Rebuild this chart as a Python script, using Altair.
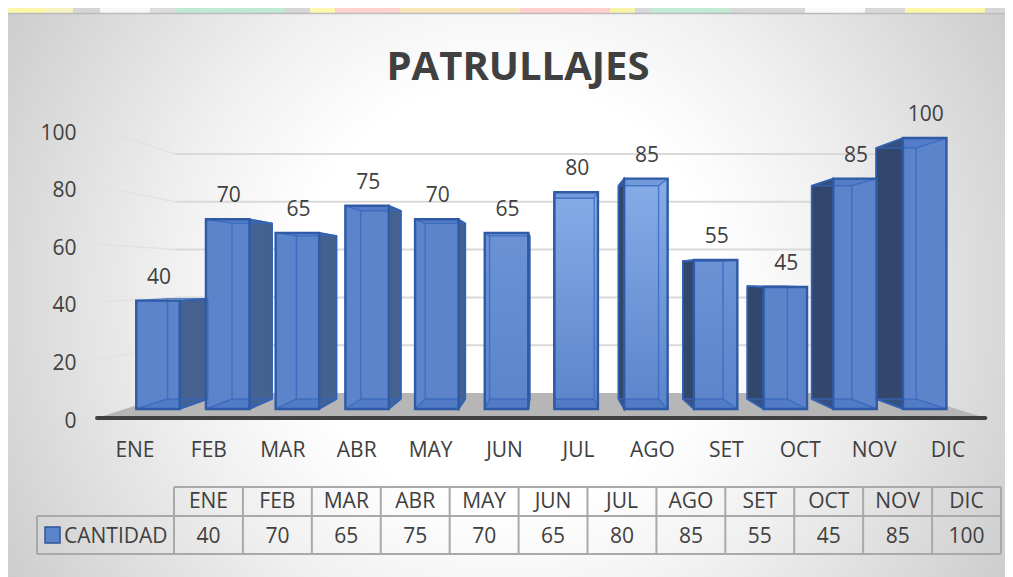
import altair as alt
import pandas as pd

months = ["ENE","FEB","MAR","ABR","MAY","JUN","JUL","AGO","SET","OCT","NOV","DIC"]
values = [40,70,65,75,70,65,80,85,55,45,85,100]
y_ticks = [0,20,40,60,80,100]
sheen_mid = ["JUN","SET"]
sheen_strong = ["JUL","AGO"]
chart_title = ["PATRULLAJES"]

FONT = "Open Sans"
TXT = "#404040"
W, H = 997, 569
FS = 21
HALF = 0.312      # half bar width in month slots
VANISH = 5.6      # slot of the perspective centre
DEPTH_X = 0.924

def back_x(x): return VANISH + (x - VANISH) * DEPTH_X
def back_y(v): return 3.69 + 0.926 * v
def wall_y(v): return 5.9 + 0.882 * v
def axis_y(v): return -3.32 + 1.07 * v
WALL_L, WALL_R, AX_L, AX_R = 0.244, 10.72, -0.875, 11.87

def poly_rows(pts, group, color):
    """Turn a convex polygon into area rows (x, upper, lower)."""
    n = len(pts)
    rows = []
    for x in sorted({p[0] for p in pts}):
        ys = []
        for k in range(n):
            (x0, y0), (x1, y1) = pts[k], pts[(k + 1) % n]
            if min(x0, x1) <= x <= max(x0, x1):
                if x0 == x1:
                    ys += [y0, y1]
                else:
                    ys.append(y0 + (y1 - y0) * (x - x0) / (x1 - x0))
        rows.append(dict(x=x, y=max(ys), y2=min(ys), g=group, c=color))
    return rows

SX = alt.Scale(domain=[0, 11], range=[150, 150 + 69.7 * 11])
SY = alt.Scale(domain=[0, 100], range=[401, 130])
X = alt.X("x:Q", axis=None, scale=SX)
Y = alt.Y("y:Q", axis=None, scale=SY)

def area(rows, **kw):
    return alt.Chart(pd.DataFrame(rows)).mark_area(**kw).encode(
        x=X, y=Y, y2="y2:Q", detail="g:N",
        fill=alt.Fill("c:N", scale=None))

# ---------- panel
panel = alt.Chart(pd.DataFrame({"a": [0]})).mark_rect(
    color=alt.RadialGradient(
        gradient="radial", x1=0.5, y1=0.5, x2=0.5, y2=0.5, r1=0, r2=0.6,
        stops=[alt.GradientStop(offset=0, color="#ffffff"),
               alt.GradientStop(offset=0.3, color="#ffffff"),
               alt.GradientStop(offset=0.48, color="#f0f0f0"),
               alt.GradientStop(offset=0.83, color="#cbcbcb"),
               alt.GradientStop(offset=1, color="#bdbdbd")])
).encode(x=alt.value(0), x2=alt.value(W), y=alt.value(-300), y2=alt.value(875))

strip_x0 = [0, 37, 65, 92, 142, 167, 277, 302, 327, 392, 512, 602, 627, 642, 722, 797, 857, 897, 977]
strip_x1 = [37, 65, 92, 142, 167, 277, 302, 327, 392, 512, 602, 627, 642, 722, 797, 857, 897, 977, 997]
strip_c = ["#fdf7a8", "#f6f3c0", "#d6d4d6", "#f7f7f9", "#dcdcdc", "#c0e9d3", "#d6d6d6", "#fdf7b0",
           "#ffd0d0", "#f6e6b8", "#ffcfd0", "#f9f3a8", "#d8d8d8", "#c2ead5", "#d8d8d8", "#fbf8f8",
           "#d8d8d8", "#fdf7a8", "#d6d6d6"]
strip = alt.Chart(pd.DataFrame({"a": strip_x0, "b": strip_x1, "c": strip_c})).mark_rect().encode(
    x=alt.X("a:Q", axis=None, scale=alt.Scale(domain=[0, W], range=[0, W])),
    x2="b:Q", y=alt.value(0), y2=alt.value(5),
    fill=alt.Fill("c:N", scale=None))
edge = alt.Chart(pd.DataFrame({"a": [0]})).mark_rule(color="#bcbcbc", strokeWidth=1.5).encode(
    x=alt.value(0), x2=alt.value(W), y=alt.value(5.5))
title_mark = alt.Chart(pd.DataFrame({"s": chart_title})).mark_text(
    font=FONT, fontSize=40, fontWeight="bold", color=TXT, baseline="alphabetic").encode(
    x=alt.value(510), y=alt.value(72), text="s:N")
deco = alt.layer(panel, strip, edge, title_mark)

# ---------- walls, floor, axis line
grid = pd.DataFrame({"t": y_ticks})
grid["ax"] = grid["t"].map(axis_y)
grid["wl"] = grid["t"].map(wall_y)
grid["xa"], grid["xw"], grid["xr"] = AX_L, WALL_L, WALL_R
left_wall = alt.Chart(grid).mark_rule(color="#e2e2e2", strokeWidth=1.5).encode(
    x=alt.X("xa:Q", axis=None, scale=SX), x2="xw:Q",
    y=alt.Y("ax:Q", axis=None, scale=SY), y2="wl:Q")
back_wall = alt.Chart(grid[grid.t > 0]).mark_rule(color="#d9d9d9", strokeWidth=2).encode(
    x=alt.X("xw:Q", axis=None, scale=SX), x2="xr:Q",
    y=alt.Y("wl:Q", axis=None, scale=SY))
floor = area(poly_rows([(AX_L, axis_y(0)), (WALL_L, wall_y(0)), (WALL_R, wall_y(0)), (AX_R, axis_y(0))],
                       "floor", "#b6b6b6"))
axis_line = alt.Chart(pd.DataFrame({"x": [AX_L], "x2": [AX_R], "y": [axis_y(0)]})).mark_rule(
    color="#404040", strokeWidth=4, strokeCap="round").encode(
    x=X, x2="x2:Q", y=Y)

# ---------- 3D bars
side, top, bottom, edges = [], [], [], []
for i, (m, v) in enumerate(zip(months, values)):
    l, r = i - HALF, i + HALF
    bl, br = back_x(l), back_x(r)
    by0, byv = back_y(0), back_y(v)
    if i < VANISH:
        side += poly_rows([(r, 0), (br, by0), (br, byv), (r, v)], f"s{i:02d}", "#44618f")
    else:
        side += poly_rows([(l, 0), (bl, by0), (bl, byv), (l, v)], f"s{i:02d}", "#33476c")
    top += poly_rows([(l, v), (bl, byv), (br, byv), (r, v)], f"t{i:02d}", "#3a66b8")
    bottom += poly_rows([(l, 0), (bl, by0), (br, by0), (r, 0)], f"b{i:02d}", "#3a66b8")
    for k, (a, b, c0, d) in enumerate([(l, bl, v, byv), (r, br, v, byv), (l, bl, 0, by0), (r, br, 0, by0),
                                       (bl, bl, by0, byv), (br, br, by0, byv), (bl, br, byv, byv), (bl, br, by0, by0)]):
        edges.append(dict(x=a, x2=b, y=c0, y2=d))

bars = pd.DataFrame({"m": months, "v": values, "z": [0] * 12})
bars["x"] = [i - HALF for i in range(12)]
bars["x2"] = [i + HALF for i in range(12)]

def front(**kw):
    return alt.Chart(bars).mark_bar(**kw).encode(x=X, x2="x2:Q", y=alt.Y("v:Q", axis=None, scale=SY), y2="z:Q")

def sheen(names, op):
    return alt.Chart(bars[bars.m.isin(names)]).mark_bar(
        color=alt.LinearGradient(gradient="linear", x1=0, y1=0, x2=0, y2=1,
                                 stops=[alt.GradientStop(offset=0, color=f"rgba(170,205,255,{op})"),
                                        alt.GradientStop(offset=1, color="rgba(170,205,255,0)")])
    ).encode(x=X, x2="x2:Q", y=alt.Y("v:Q", axis=None, scale=SY), y2="z:Q")

edge_layer = alt.Chart(pd.DataFrame(edges)).mark_rule(color="#3566bd", strokeWidth=1.4, opacity=0.75).encode(
    x=X, x2="x2:Q", y=Y, y2="y2:Q")
labels = alt.Chart(pd.DataFrame({"x": [i + 0.015 for i in range(12)], "y": values})).mark_text(
    font=FONT, fontSize=FS, color=TXT, dy=-23).encode(x=X, y=Y, text="y:Q")

side_layer = area(side, stroke="#2e5aa6", strokeWidth=1.5)
main = alt.layer(left_wall, back_wall, floor, axis_line,
                 side_layer,
                 front(color="#5b84cb"), sheen(sheen_mid, 0.2), sheen(sheen_strong, 0.55),
                 area(top, opacity=0.25), area(bottom, opacity=0.3),
                 edge_layer,
                 front(fillOpacity=0, stroke="#2e5aa6", strokeWidth=2.4),
                 labels)

# ---------- real axes
axes = alt.Chart(pd.DataFrame({"m": months, "t": [(y_ticks * 2)[i] for i in range(12)]})).mark_point(opacity=0).encode(
    x=alt.X("m:N", title=None, sort=months,
            scale=alt.Scale(type="band", domain=months, range=[90, 977], paddingInner=0, paddingOuter=0),
            axis=alt.Axis(orient="bottom", offset=-(H - 442), domain=False, ticks=False, grid=False, zindex=1,
                          labelAngle=0, labelFont=FONT, labelFontSize=FS, labelColor=TXT, labelPadding=0,
                          labelBaseline="middle")),
    y=alt.Y("t:Q", title=None,
            scale=alt.Scale(domain=[0, 100], range=[413, 125]),
            axis=alt.Axis(orient="left", offset=-68, values=y_ticks, domain=False, ticks=False, grid=False, zindex=1,
                          labelFont=FONT, labelFontSize=FS, labelColor=TXT, labelPadding=0)))

# ---------- data table
tbl_x = alt.Scale(domain=[0, 12], range=[166, 993])
edges_x = list(range(13))
tbl_v = alt.Chart(pd.DataFrame({"e": edges_x})).mark_rule(color="#a9a9a9", strokeWidth=2).encode(
    x=alt.X("e:Q", axis=None, scale=tbl_x), y=alt.value(479), y2=alt.value(546))
one = pd.DataFrame({"a": [0]})
rule_kw = dict(color="#a9a9a9", strokeWidth=2)
tbl_top = alt.Chart(one).mark_rule(**rule_kw).encode(x=alt.value(166), x2=alt.value(993), y=alt.value(479))
tbl_mid = alt.Chart(one).mark_rule(**rule_kw).encode(x=alt.value(29), x2=alt.value(993), y=alt.value(508))
tbl_bot = alt.Chart(one).mark_rule(**rule_kw).encode(x=alt.value(29), x2=alt.value(993), y=alt.value(546))
tbl_l = alt.Chart(one).mark_rule(**rule_kw).encode(x=alt.value(29), y=alt.value(508), y2=alt.value(546))
cells = pd.DataFrame({"c": [i + 0.5 for i in range(12)], "m": months, "v": values})
txt_kw = dict(font=FONT, fontSize=FS, color=TXT)
tbl_h = alt.Chart(cells).mark_text(**txt_kw).encode(
    x=alt.X("c:Q", axis=None, scale=tbl_x), y=alt.value(494), text="m:N")
tbl_d = alt.Chart(cells).mark_text(**txt_kw).encode(
    x=alt.X("c:Q", axis=None, scale=tbl_x), y=alt.value(529), text="v:Q")
swatch = alt.Chart(one).mark_rect(color="#5b84cb", stroke="#2f5597", strokeWidth=1.5).encode(
    x=alt.value(37), x2=alt.value(52), y=alt.value(519), y2=alt.value(535))
series = alt.Chart(pd.DataFrame({"s": ["CANTIDAD"]})).mark_text(align="left", **txt_kw).encode(
    x=alt.value(56), y=alt.value(529), text="s:N")
table = alt.layer(tbl_v, tbl_top, tbl_mid, tbl_bot, tbl_l, tbl_h, tbl_d, swatch, series)

chart = alt.layer(deco, main, axes, table).resolve_scale(x="independent", y="independent").properties(
    width=W, height=H,
    padding=0,
    background="transparent",
    autosize=alt.AutoSizeParams(type="none"),
).configure_view(stroke=None)

chart.save("out.html", embed_options={"renderer": "svg", "actions": False})
